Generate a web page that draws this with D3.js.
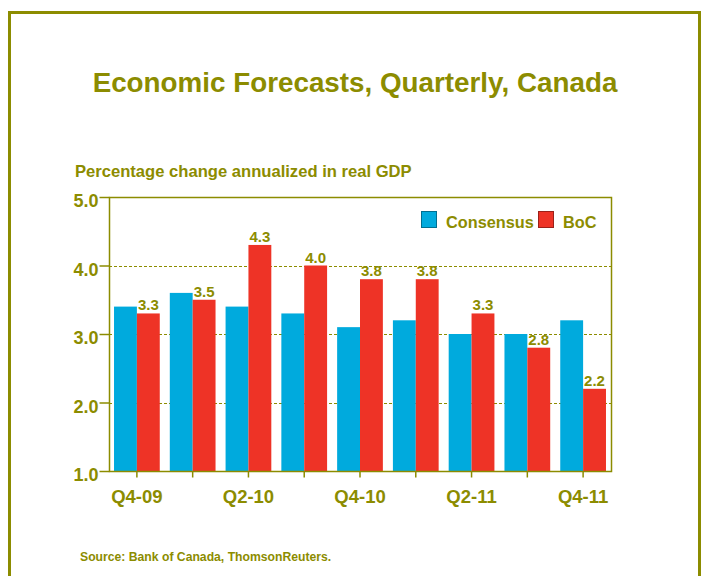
<!DOCTYPE html>
<html>
<head>
<meta charset="utf-8">
<script src="https://cdn.jsdelivr.net/npm/d3@7"></script>
<style>
	body { margin: 0; background: #fff; }
	svg text { font-family: "Liberation Sans", Arial, sans-serif; font-weight: bold; }
</style>
</head>
<body>
<div id="chart"></div>
<script>
// chart data
const quarters = ["Q4-09", "Q1-10", "Q2-10", "Q3-10", "Q4-10", "Q1-11", "Q2-11", "Q3-11", "Q4-11"];
const consensus = [3.4, 3.6, 3.4, 3.3, 3.1, 3.2, 3.0, 3.0, 3.2];
const boc = [3.3, 3.5, 4.3, 4.0, 3.8, 3.8, 3.3, 2.8, 2.2];
const seriesNames = ["Consensus", "BoC"];
const yTicks = [1.0, 2.0, 3.0, 4.0, 5.0];
const xLabelled = ["Q4-09", "Q2-10", "Q4-10", "Q2-11", "Q4-11"];

const olive = "#8c8c00";
const colors = { Consensus: "#00aadd", BoC: "#ee3326" };
const w = 702, h = 576;
const margin = { t: 197, r: 91, b: 105, l: 109 };

const svg = d3
	.select("#chart")
	.append("svg")
	.attr("width", w)
	.attr("height", h);

// outer frame
svg.append("rect")
	.attr("x", 9.5).attr("y", 12.5)
	.attr("width", 690).attr("height", 600)
	.attr("fill", "none")
	.attr("stroke", olive)
	.attr("stroke-width", 3);

svg.append("text")
	.attr("x", 355).attr("y", 92)
	.attr("text-anchor", "middle")
	.attr("font-size", 27.8)
	.attr("fill", olive)
	.text("Economic Forecasts, Quarterly, Canada");

svg.append("text")
	.attr("x", 75).attr("y", 177)
	.attr("font-size", 16.6)
	.attr("fill", olive)
	.text("Percentage change annualized in real GDP");

svg.append("text")
	.attr("x", 80).attr("y", 561)
	.attr("font-size", 12.2)
	.attr("fill", olive)
	.text("Source: Bank of Canada, ThomsonReuters.");

const data = quarters.map((q, i) => ({ q: q, Consensus: consensus[i], BoC: boc[i] }));

// scales
const x0 = d3.scaleBand()
	.domain(quarters)
	.range([margin.l, w - margin.r])
	.paddingInner(0.18)
	.paddingOuter(0.09);

const x1 = d3.scaleBand()
	.domain(seriesNames)
	.range([0, x0.bandwidth()]);

const y = d3.scaleLinear()
	.domain([1, 5])
	.range([h - margin.b, margin.t]);

const g = svg.append("g");

// dashed gridlines
g.selectAll(".grid")
	.data(yTicks.filter((d) => d > 1 && d < 5))
	.join("line")
	.attr("x1", margin.l).attr("x2", w - margin.r)
	.attr("y1", (d) => Math.round(y(d)) + 0.5)
	.attr("y2", (d) => Math.round(y(d)) + 0.5)
	.attr("stroke", olive)
	.attr("stroke-dasharray", "3,2");

// bars
const groups = g.selectAll(".grp")
	.data(data)
	.join("g")
	.attr("transform", (d) => `translate(${x0(d.q)},0)`);

groups.selectAll("rect")
	.data((d) => seriesNames.map((k) => ({ k: k, v: d[k] })))
	.join("rect")
	.attr("x", (d) => x1(d.k))
	.attr("y", (d) => y(d.v))
	.attr("width", x1.bandwidth())
	.attr("height", (d) => y(1) - y(d.v))
	.attr("fill", (d) => colors[d.k]);

// value labels on BoC bars
groups.append("text")
	.attr("x", x1("BoC") + x1.bandwidth() / 2)
	.attr("y", (d) => y(d.BoC) - 3)
	.attr("text-anchor", "middle")
	.attr("font-size", 15)
	.attr("fill", olive)
	.text((d) => d.BoC.toFixed(1));

// plot frame
g.append("rect")
	.attr("x", margin.l + 0.5).attr("y", y(5) + 0.5)
	.attr("width", w - margin.r - margin.l)
	.attr("height", y(1) - y(5))
	.attr("fill", "none")
	.attr("stroke", olive)
	.attr("stroke-width", 1.5);

// y axis
const yAxis = d3.axisLeft(y)
	.tickValues(yTicks)
	.tickFormat(d3.format(".1f"))
	.tickSize(10)
	.tickPadding(1);
const yAxisG = g.append("g")
	.attr("transform", `translate(${margin.l + 0.5},0)`)
	.call(yAxis);
yAxisG.select(".domain").remove();
yAxisG.selectAll("line").attr("stroke", olive).attr("stroke-width", 1.5);
yAxisG.selectAll("text")
	.attr("fill", olive)
	.attr("font-size", 18)
	.attr("dy", "0.55em")
	.attr("font-family", "Liberation Sans, Arial, sans-serif");

// x axis
const xAxis = d3.axisBottom(x0)
	.tickSize(6)
	.tickPadding(12)
	.tickFormat((d) => (xLabelled.includes(d) ? d : ""));
const xAxisG = g.append("g")
	.attr("transform", `translate(0,${y(1) + 0.5})`)
	.call(xAxis);
xAxisG.select(".domain").remove();
xAxisG.selectAll("line")
	.attr("stroke", olive)
	.attr("stroke-width", 1.5);
xAxisG.selectAll("text")
	.attr("fill", olive)
	.attr("font-size", 18.5)
	.attr("font-family", "Liberation Sans, Arial, sans-serif");

// legend
const legend = g.append("g").attr("transform", "translate(421,211)");
const legendX = [0, 117];
seriesNames.forEach((k, i) => {
	legend.append("rect")
		.attr("x", legendX[i] + 0.5).attr("y", 0.5)
		.attr("width", 15).attr("height", 16)
		.attr("fill", colors[k])
		.attr("stroke", d3.color(colors[k]).darker(1.2));
	legend.append("text")
		.attr("x", legendX[i] + 25).attr("y", 17)
		.attr("font-size", 16.3)
		.attr("fill", olive)
		.text(k);
});
</script>
</body>
</html>
